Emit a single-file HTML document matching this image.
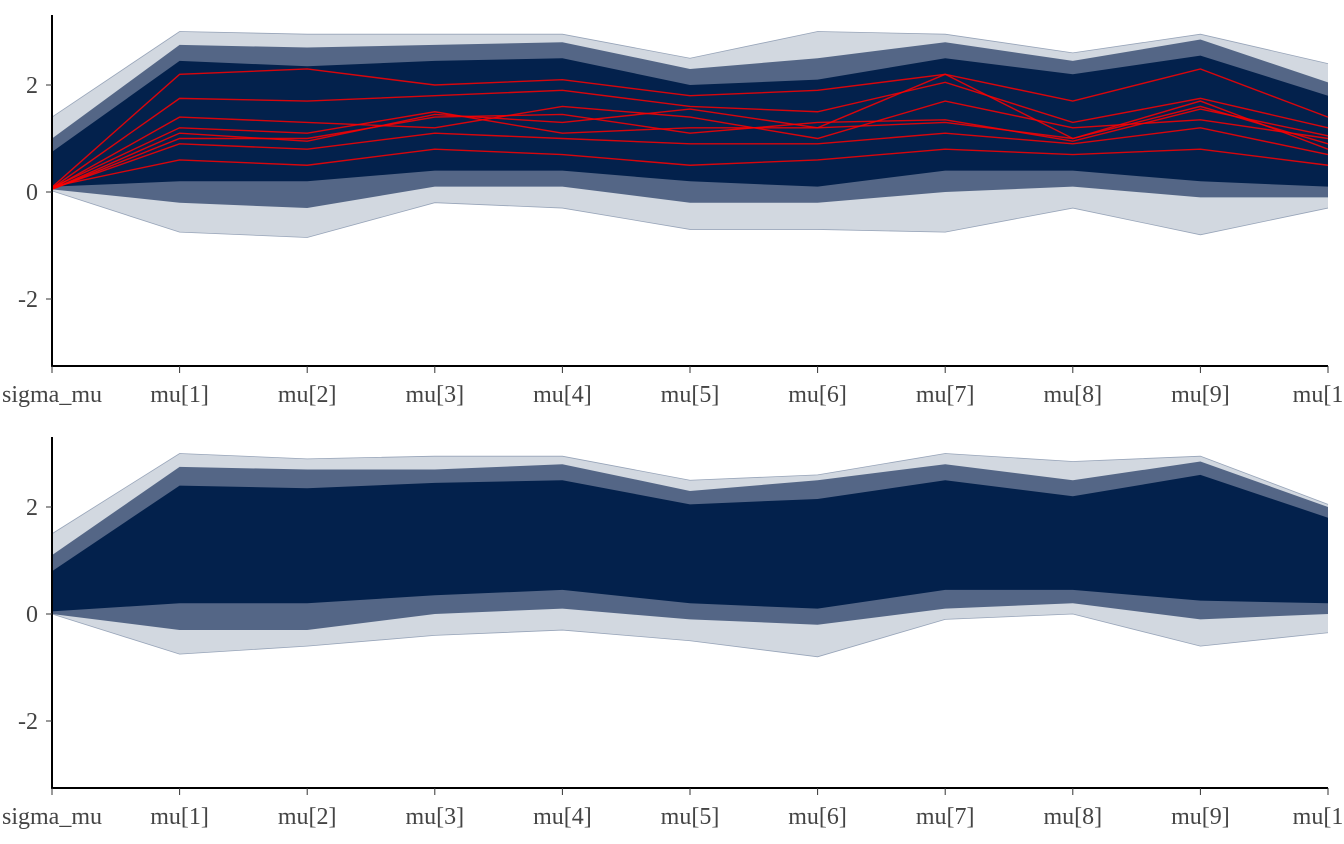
<!DOCTYPE html>
<html><head><meta charset="utf-8"><style>
html,body{margin:0;padding:0;background:#fff;width:1344px;height:844px;overflow:hidden}
svg text{font-family:"Liberation Serif",serif;font-size:24px;fill:#444}
</style></head><body>
<svg id="chart" width="1344" height="844" xmlns="http://www.w3.org/2000/svg"></svg>
<script>
const categories=["sigma_mu","mu[1]","mu[2]","mu[3]","mu[4]","mu[5]","mu[6]","mu[7]","mu[8]","mu[9]","mu[10]"];
const yTicks=[2,0,-2];
// top panel quantiles per parameter
const topMin=[0.02,-0.75,-0.85,-0.2,-0.3,-0.7,-0.7,-0.75,-0.3,-0.8,-0.3];
const topLow=[0.05,-0.2,-0.3,0.1,0.1,-0.2,-0.2,0.0,0.1,-0.1,-0.1];
const topCoreLow=[0.1,0.2,0.2,0.4,0.4,0.2,0.1,0.4,0.4,0.2,0.1];
const topCoreHigh=[0.75,2.45,2.35,2.45,2.5,2.0,2.1,2.5,2.2,2.55,1.8];
const topHigh=[1.0,2.75,2.7,2.75,2.8,2.3,2.5,2.8,2.45,2.85,2.05];
const topMax=[1.4,3.0,2.95,2.95,2.95,2.5,3.0,2.95,2.6,2.95,2.4];
// bottom panel quantiles
const botMin=[0.0,-0.75,-0.6,-0.4,-0.3,-0.5,-0.8,-0.1,0.0,-0.6,-0.35];
const botLow=[0.0,-0.3,-0.3,0.0,0.1,-0.1,-0.2,0.1,0.2,-0.1,0.0];
const botCoreLow=[0.05,0.2,0.2,0.35,0.45,0.2,0.1,0.45,0.45,0.25,0.2];
const botCoreHigh=[0.8,2.4,2.35,2.45,2.5,2.05,2.15,2.5,2.2,2.6,1.8];
const botHigh=[1.1,2.75,2.7,2.7,2.8,2.3,2.5,2.8,2.5,2.85,2.0];
const botMax=[1.5,3.0,2.9,2.95,2.95,2.5,2.6,3.0,2.85,2.95,2.05];
// divergent (red) draws in top panel
const red1=[0.05,1.1,0.95,1.45,1.3,1.55,1.2,2.2,1.0,1.6,0.9];
const red2=[0.05,1.0,1.0,1.4,1.45,1.1,1.3,1.35,0.95,1.55,1.05];
const red3=[0.08,1.2,1.1,1.5,1.1,1.2,1.2,1.3,1.0,1.7,0.8];
const red4=[0.07,1.75,1.7,1.8,1.9,1.6,1.5,2.05,1.3,1.75,1.2];
const red5=[0.1,0.6,0.5,0.8,0.7,0.5,0.6,0.8,0.7,0.8,0.5];
const red6=[0.06,1.4,1.3,1.2,1.6,1.4,1.0,1.7,1.2,1.35,1.0];
const red7=[0.09,2.2,2.3,2.0,2.1,1.8,1.9,2.2,1.7,2.3,1.4];
const red8=[0.06,0.9,0.8,1.1,1.0,0.9,0.9,1.1,0.9,1.2,0.7];
const redSeries=[red1,red2,red3,red4,red5,red6,red7,red8];

const NS="http://www.w3.org/2000/svg";
const svg=document.getElementById('chart');
const X0=52,DX=127.6;
function xs(i){return X0+i*DX;}
function mk(tag,attrs,parent){const e=document.createElementNS(NS,tag);for(const k in attrs)e.setAttribute(k,attrs[k]);(parent||svg).appendChild(e);return e;}
function band(lo,hi,ys,fill,op,g){
  let d="M"+lo.map((v,i)=>xs(i)+","+ys(v)).join("L");
  d+="L"+hi.map((v,i)=>xs(i)+","+ys(v)).reverse().join("L")+"Z";
  return mk('path',{d:d,fill:fill,'fill-opacity':op},g);
}
function line(vals,ys,stroke,w,op,g){
  return mk('path',{d:"M"+vals.map((v,i)=>xs(i)+","+ys(v)).join("L"),fill:'none',stroke:stroke,'stroke-width':w,'stroke-opacity':op},g);
}
function panel(name,y0,axisTop,axisBottom,q,reds){
  const ys=v=>y0-v*53.5;
  const g=mk('g',{});
  
  
  const b1=band(q[0],q[5],ys,'#6a7d99',0.3,g);
  
  
  const b2=band(q[1],q[4],ys,'#2a4068',0.75,g);
  
  
  const b3=band(q[2],q[3],ys,'#03214c',1,g);
  
  
  [q[0],q[5]].forEach(s=>{const l=line(s,ys,'#8e9cb3',0.8,0.9,g);});
  reds.forEach(s=>{const l=line(s,ys,'#ff0000',1.4,0.85,g);});
  const ya=mk('line',{x1:X0,x2:X0,y1:axisTop,y2:axisBottom+1,stroke:'#000','stroke-width':2},g);
  
  const xa=mk('line',{x1:X0-1,x2:xs(categories.length-1),y1:axisBottom,y2:axisBottom,stroke:'#000','stroke-width':2},g);
  
  yTicks.forEach(t=>{
    mk('line',{x1:X0-6,x2:X0,y1:ys(t),y2:ys(t),stroke:'#333','stroke-width':1},g);
    const tx=mk('text',{x:X0-14,y:ys(t)+8,'text-anchor':'end'},g);
    tx.textContent=t;
    
    
  });
  categories.forEach((c,i)=>{
    mk('line',{x1:xs(i),x2:xs(i),y1:axisBottom,y2:axisBottom+7,stroke:'#333','stroke-width':1},g);
    const tx=mk('text',{x:xs(i),y:axisBottom+36,'text-anchor':'middle'},g);
    tx.textContent=c;
    
    
  });
}
panel('top-panel',192,15,366,[topMin,topLow,topCoreLow,topCoreHigh,topHigh,topMax],redSeries);
panel('bottom-panel',614,437,788,[botMin,botLow,botCoreLow,botCoreHigh,botHigh,botMax],[]);
</script>
</body></html>
